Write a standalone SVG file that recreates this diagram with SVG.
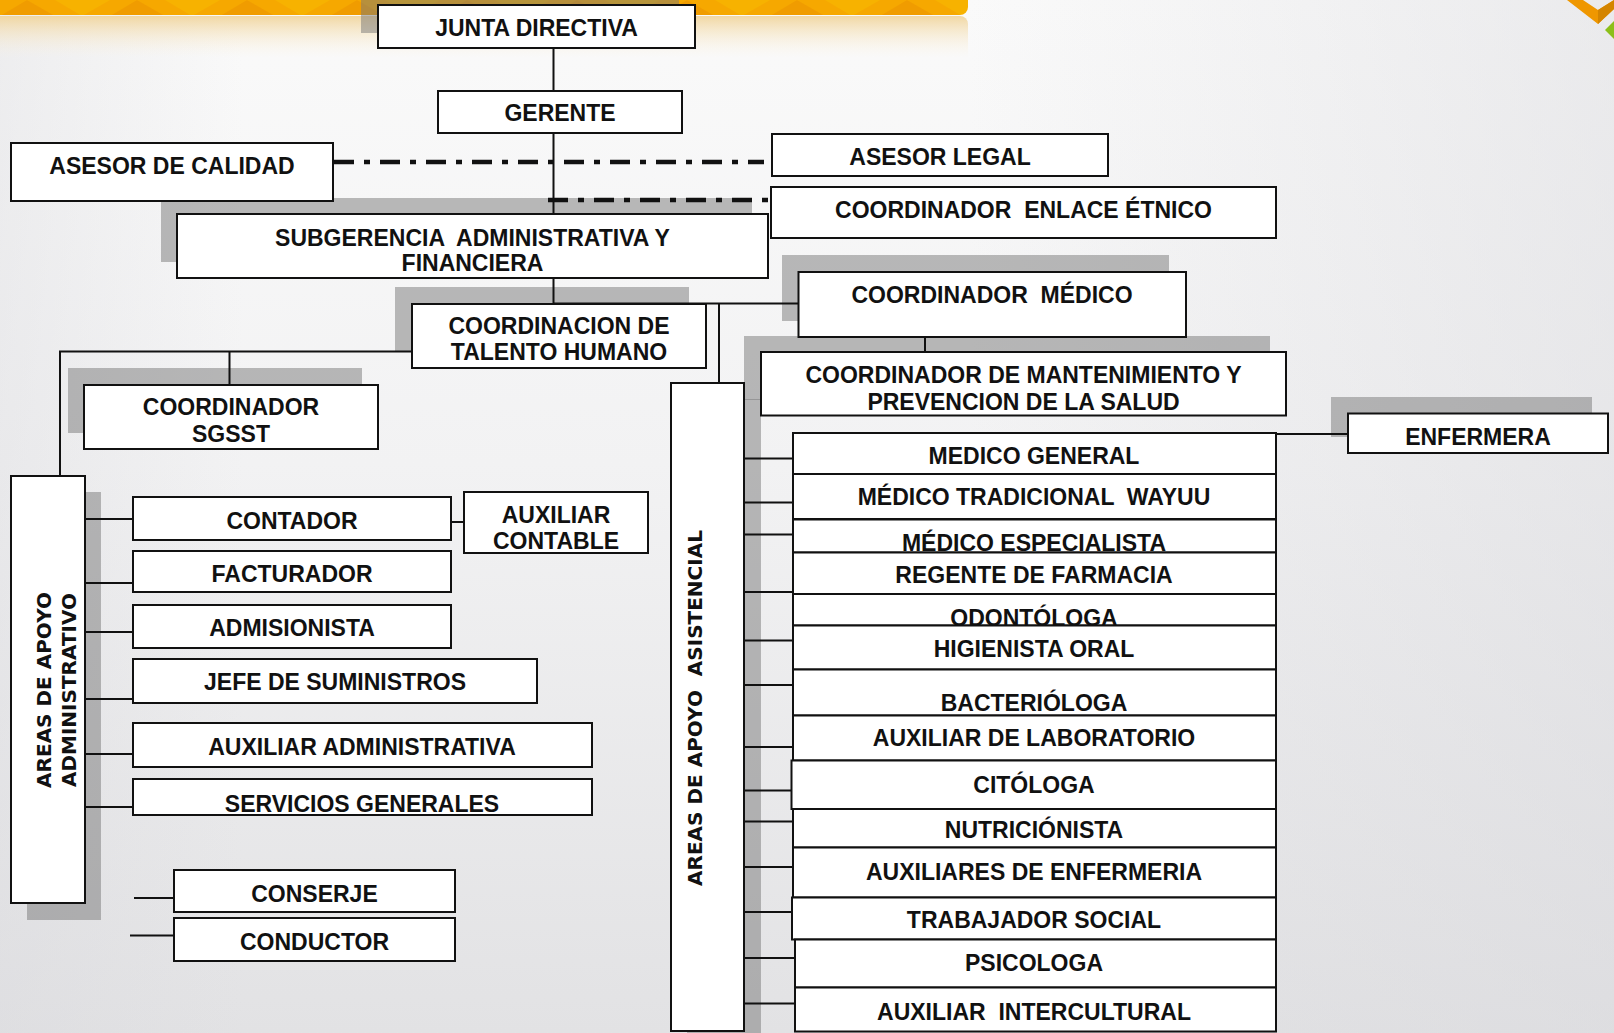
<svg xmlns="http://www.w3.org/2000/svg" width="1614" height="1033" viewBox="0 0 1614 1033">
<defs>
<linearGradient id="bg" x1="0" y1="0" x2="0" y2="1">
<stop offset="0" stop-color="#fafafa"/>
<stop offset="0.45" stop-color="#f2f2f3"/>
<stop offset="1" stop-color="#e2e2e4"/>
</linearGradient>
<linearGradient id="bgh" x1="0" y1="0" x2="1" y2="0">
<stop offset="0" stop-color="#d8d8dc" stop-opacity="0.35"/>
<stop offset="0.15" stop-color="#d8d8dc" stop-opacity="0"/>
<stop offset="0.6" stop-color="#d8d8dc" stop-opacity="0"/>
<stop offset="1" stop-color="#d8d8dc" stop-opacity="0.45"/>
</linearGradient>
<linearGradient id="refl" x1="0" y1="0" x2="0" y2="1">
<stop offset="0" stop-color="#f0d398" stop-opacity="0.9"/>
<stop offset="1" stop-color="#fbf3e2" stop-opacity="0"/>
</linearGradient>
<pattern id="chev" x="0" y="0" width="110" height="16" patternUnits="userSpaceOnUse">
<rect width="110" height="16" fill="#f6a800"/>
<polygon points="0,16 27,0 55,16" fill="#ee9800" opacity="0.7"/>
<polygon points="55,0 82,16 110,0" fill="#f8b400" opacity="0.8"/>
</pattern>
<style>
.box{fill:#fff;stroke:#111;stroke-width:2}
.sh{fill:#777;opacity:.5}
.ln{stroke:#111;stroke-width:2;fill:none}
.dd{stroke:#111;stroke-width:4.5;stroke-dasharray:20 10 6 10;fill:none}
.t{font-family:"Liberation Sans",Arial,sans-serif;font-weight:bold;font-size:23px;fill:#111;text-anchor:middle;white-space:pre}
.v{font-family:"DejaVu Sans",Verdana,sans-serif;font-weight:bold;font-size:20px;fill:#111;text-anchor:middle;white-space:pre}
</style>
</defs>

<g id="background">
<rect width="1614" height="1033" fill="url(#bg)"/>
<rect width="1614" height="1033" fill="url(#bgh)"/>
<path d="M0,-10 H960 a8,8 0 0 1 8,8 V7 a8,8 0 0 1 -8,8 H0 Z" fill="url(#chev)"/>
<path d="M0,16 H960 a8,8 0 0 1 8,8 V58 H0 Z" fill="url(#refl)"/>
<polygon points="1567,0 1583,0 1598,10 1614,0 1614,9 1598,24" fill="#ef9700"/>
<polygon points="1598,10 1614,0 1614,9 1598,24" fill="#d48500"/>
<polygon points="1614,21 1605,30 1614,39" fill="#8cbf1a"/>
</g>

<g id="shadows">
<rect class="sh" x="361" y="-11" width="318" height="44"/>
<rect class="sh" x="161" y="198" width="591" height="64"/>
<rect class="sh" x="395" y="287" width="294" height="64"/>
<rect class="sh" x="782" y="255" width="387" height="66"/>
<rect class="sh" x="744" y="336" width="526" height="64"/>
<rect class="sh" x="1331" y="397" width="261" height="40"/>
<rect class="sh" x="68" y="368" width="294" height="65"/>
<rect class="sh" x="27" y="492" width="74" height="428"/>
<rect class="sh" x="687" y="399" width="74" height="640"/>
</g>

<g id="connectors">
<line class="ln" x1="553.5" y1="48" x2="553.5" y2="91"/>
<line class="ln" x1="553.5" y1="133" x2="553.5" y2="310"/>
<line class="dd" x1="334" y1="162" x2="764" y2="162"/>
<line class="dd" x1="548" y1="200" x2="770" y2="200"/>
<polyline class="ln" points="412,351.5 60,351.5 60,476"/>
<line class="ln" x1="229.5" y1="351.5" x2="229.5" y2="385"/>
<line class="ln" x1="553.5" y1="303.5" x2="798.5" y2="303.5"/>
<line class="ln" x1="719" y1="303.5" x2="719" y2="383"/>
<line class="ln" x1="925" y1="337" x2="925" y2="352"/>
<line class="ln" x1="1276" y1="434" x2="1348" y2="434"/>
<line class="ln" x1="451" y1="522" x2="464" y2="522"/>
<line class="ln" x1="85" y1="519" x2="133" y2="519"/>
<line class="ln" x1="85" y1="583" x2="133" y2="583"/>
<line class="ln" x1="85" y1="632" x2="133" y2="632"/>
<line class="ln" x1="85" y1="699" x2="133" y2="699"/>
<line class="ln" x1="85" y1="754" x2="133" y2="754"/>
<line class="ln" x1="85" y1="807" x2="133" y2="807"/>
<line class="ln" x1="134" y1="898" x2="175" y2="898"/>
<line class="ln" x1="130" y1="935.5" x2="174" y2="935.5"/>
<line class="ln" x1="744" y1="458.5" x2="793" y2="458.5"/>
<line class="ln" x1="744" y1="502.5" x2="793" y2="502.5"/>
<line class="ln" x1="744" y1="534.5" x2="793" y2="534.5"/>
<line class="ln" x1="744" y1="592" x2="793" y2="592"/>
<line class="ln" x1="744" y1="640.5" x2="793" y2="640.5"/>
<line class="ln" x1="744" y1="685" x2="793" y2="685"/>
<line class="ln" x1="744" y1="747" x2="793" y2="747"/>
<line class="ln" x1="744" y1="790.5" x2="793" y2="790.5"/>
<line class="ln" x1="744" y1="821.5" x2="793" y2="821.5"/>
<line class="ln" x1="744" y1="867" x2="793" y2="867"/>
<line class="ln" x1="744" y1="912" x2="793" y2="912"/>
<line class="ln" x1="744" y1="958" x2="795" y2="958"/>
<line class="ln" x1="744" y1="1003.5" x2="795" y2="1003.5"/>
</g>

<g id="junta-directiva"><rect class="box" x="378" y="5" width="317" height="43"/><text class="t" x="536.5" y="36">JUNTA DIRECTIVA</text></g>
<g id="gerente"><rect class="box" x="438" y="91" width="244" height="42"/><text class="t" x="560" y="121">GERENTE</text></g>
<g id="asesor-calidad"><rect class="box" x="11" y="143" width="322" height="58"/><text class="t" x="172" y="174">ASESOR DE CALIDAD</text></g>
<g id="asesor-legal"><rect class="box" x="772" y="134" width="336" height="42"/><text class="t" x="940" y="165">ASESOR LEGAL</text></g>
<g id="coordinador-enlace"><rect class="box" x="771" y="187" width="505" height="51"/><text class="t" x="1023.5" y="218">COORDINADOR  ENLACE ÉTNICO</text></g>
<g id="subgerencia"><rect class="box" x="177" y="214" width="591" height="64"/><text class="t" x="472.5" y="246">SUBGERENCIA  ADMINISTRATIVA Y</text><text class="t" x="472.5" y="271">FINANCIERA</text></g>
<g id="coordinacion-th"><rect class="box" x="412" y="304" width="294" height="64"/><text class="t" x="559" y="334">COORDINACION DE</text><text class="t" x="559" y="360">TALENTO HUMANO</text></g>
<g id="coordinador-medico"><rect class="box" x="798.5" y="272" width="387.5" height="65"/><text class="t" x="992" y="302.5">COORDINADOR  MÉDICO</text></g>
<g id="coordinador-mantenimiento"><rect class="box" x="761" y="352" width="525" height="63.5"/><text class="t" x="1023.5" y="383">COORDINADOR DE MANTENIMIENTO Y</text><text class="t" x="1023.5" y="409.5">PREVENCION DE LA SALUD</text></g>
<g id="coordinador-sgsst"><rect class="box" x="84" y="385" width="294" height="64"/><text class="t" x="231" y="415">COORDINADOR</text><text class="t" x="231" y="441.5">SGSST</text></g>
<g id="enfermera"><rect class="box" x="1348" y="413.5" width="260" height="39.5"/><text class="t" x="1478" y="444.5">ENFERMERA</text></g>

<g id="areas-administrativo"><rect class="box" x="11" y="476" width="74" height="427"/><text class="v" transform="translate(50.5,690) rotate(-90)">AREAS DE APOYO</text><text class="v" transform="translate(75.5,690) rotate(-90)">ADMINISTRATIVO</text></g>
<g id="contador"><rect class="box" x="133" y="497" width="318" height="43"/><text class="t" x="292" y="529">CONTADOR</text></g>
<g id="auxiliar-contable"><rect class="box" x="464" y="492" width="184" height="61"/><text class="t" x="556" y="523">AUXILIAR</text><text class="t" x="556" y="548.5">CONTABLE</text></g>
<g id="facturador"><rect class="box" x="133" y="551" width="318" height="41"/><text class="t" x="292" y="581.5">FACTURADOR</text></g>
<g id="admisionista"><rect class="box" x="133" y="605" width="318" height="43"/><text class="t" x="292" y="636">ADMISIONISTA</text></g>
<g id="jefe-suministros"><rect class="box" x="133" y="659" width="404" height="44"/><text class="t" x="335" y="689.5">JEFE DE SUMINISTROS</text></g>
<g id="auxiliar-administrativa"><rect class="box" x="133" y="723" width="459" height="44"/><text class="t" x="362" y="754.5">AUXILIAR ADMINISTRATIVA</text></g>
<g id="servicios-generales"><rect class="box" x="133" y="779" width="459" height="36"/><text class="t" x="362" y="812">SERVICIOS GENERALES</text></g>
<g id="conserje"><rect class="box" x="174" y="870" width="281" height="42"/><text class="t" x="314.5" y="901.5">CONSERJE</text></g>
<g id="conductor"><rect class="box" x="174" y="918" width="281" height="43"/><text class="t" x="314.5" y="950">CONDUCTOR</text></g>

<g id="areas-asistencial"><rect class="box" x="671" y="383" width="73" height="648"/><text class="v" transform="translate(702,708) rotate(-90)">AREAS DE APOYO  ASISTENCIAL</text></g>
<g id="medico-general"><rect class="box" x="793" y="433" width="483" height="41"/><text class="t" x="1034" y="463.5">MEDICO GENERAL</text></g>
<g id="medico-tradicional"><rect class="box" x="793" y="474" width="483" height="45"/><text class="t" x="1034" y="504.5">MÉDICO TRADICIONAL  WAYUU</text></g>
<g id="medico-especialista"><rect class="box" x="793" y="519.5" width="483" height="33"/><text class="t" x="1034" y="550.5">MÉDICO ESPECIALISTA</text></g>
<g id="regente-farmacia"><rect class="box" x="793" y="552.5" width="483" height="41.5"/><text class="t" x="1034" y="582.5">REGENTE DE FARMACIA</text></g>
<g id="odontologa"><rect class="box" x="793" y="594" width="483" height="31.5"/><text class="t" x="1034" y="625.5">ODONTÓLOGA</text></g>
<g id="higienista-oral"><rect class="box" x="793" y="625.5" width="483" height="44"/><text class="t" x="1034" y="656.5">HIGIENISTA ORAL</text></g>
<g id="bacteriologa"><rect class="box" x="793" y="669.5" width="483" height="46"/><text class="t" x="1034" y="711">BACTERIÓLOGA</text></g>
<g id="auxiliar-laboratorio"><rect class="box" x="793" y="715.5" width="483" height="45"/><text class="t" x="1034" y="746">AUXILIAR DE LABORATORIO</text></g>
<g id="citologa"><rect class="box" x="791.5" y="760.5" width="484.5" height="48.5"/><text class="t" x="1034" y="792.5">CITÓLOGA</text></g>
<g id="nutricionista"><rect class="box" x="793" y="809" width="483" height="38.5"/><text class="t" x="1034" y="838">NUTRICIÓNISTA</text></g>
<g id="auxiliares-enfermeria"><rect class="box" x="793" y="847.5" width="483" height="50"/><text class="t" x="1034" y="880">AUXILIARES DE ENFERMERIA</text></g>
<g id="trabajador-social"><rect class="box" x="792" y="897.5" width="484" height="42"/><text class="t" x="1034" y="928">TRABAJADOR SOCIAL</text></g>
<g id="psicologa"><rect class="box" x="795" y="939.5" width="481" height="48"/><text class="t" x="1034" y="970.5">PSICOLOGA</text></g>
<g id="auxiliar-intercultural"><rect class="box" x="795" y="987.5" width="481" height="44"/><text class="t" x="1034" y="1020">AUXILIAR  INTERCULTURAL</text></g>
</svg>
